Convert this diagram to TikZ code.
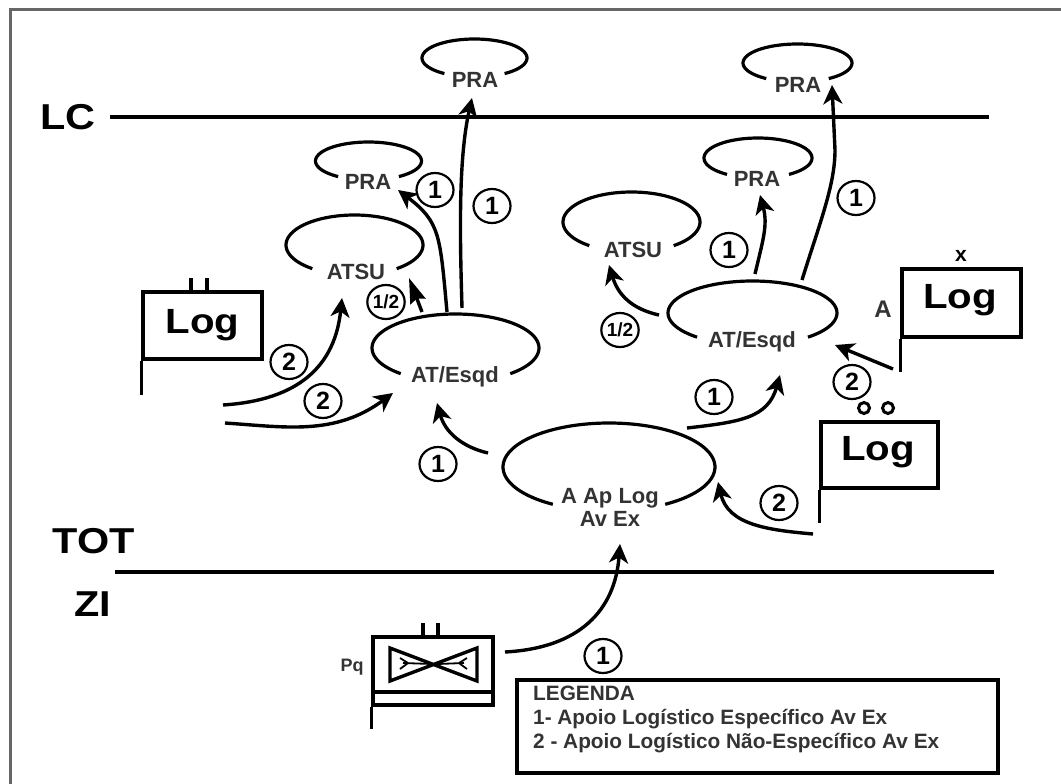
\documentclass[tikz,border=0pt]{standalone}
\usepackage{fontspec}
\setmainfont{Liberation Sans}
\newfontfamily\widefont[FakeStretch=1.15]{Liberation Sans}
\usetikzlibrary{arrows.meta,shapes.geometric}
\tikzset{
  ln/.style={line width=3.4pt,black},
  pole/.style={line width=3.6pt,black},
  conn/.style={line width=3.4pt,black,-{Stealth[length=19pt,width=19pt,inset=5.5pt]}},
  ov/.style={line width=3.2pt,black},
  lab/.style={font=\bfseries\fontsize{22}{23}\selectfont,text=black!80,inner sep=0pt,align=center},
  big/.style={font=\widefont\bfseries\fontsize{36}{38}\selectfont,inner sep=0pt},
  num/.style={ellipse,draw,line width=2.2pt,minimum width=37pt,minimum height=34pt,inner sep=0pt,font=\bfseries\fontsize{25}{25}\selectfont},
  halfnum/.style={ellipse,draw,line width=2.2pt,minimum width=37pt,minimum height=34pt,inner sep=0pt,font=\bfseries\fontsize{19}{19}\selectfont},
  flag/.style={draw,line width=3.2pt,inner sep=0pt,font=\widefont\bfseries\fontsize{35}{37}\selectfont},
}
\newcommand{\Oval}[5]{% cx cy rx ry gaphalf
  \draw[ov] plot[domain=90+#5:450-#5,samples=70,smooth] ({#1+#3*cos(\x)},{#2+#4*sin(\x)});}
\begin{document}
\begin{tikzpicture}[x=1pt,y=-1pt]
\useasboundingbox (0,0) rectangle (1061,784);
\draw[line width=3pt,black!60] (10,784) -- (10,10) -- (1061,10);
% lines
\coordinate (lcA) at (110,117); \coordinate (lcB) at (989,117);
\coordinate (ziA) at (115,572); \coordinate (ziB) at (994,572);
\draw[ln] (lcA) -- (lcB);
\draw[ln] (ziA) -- (ziB);
\node[big] (lc) at (68,117) {LC};
\node[big] (tot) at (94,541) {TOT};
\node[big] (zi) at (93,604) {ZI};
% ovals
\Oval{474.5}{58}{52.5}{19}{35}
\Oval{797.5}{63}{54.5}{19}{35}
\Oval{368.5}{161}{53}{19}{35}
\Oval{758}{158}{54}{20}{35}
\Oval{354.5}{245}{68.5}{30}{38}
\Oval{631.5}{222}{68.5}{30}{38}
\Oval{455.5}{348}{83.5}{34}{41}
\Oval{752.5}{313}{84.5}{32}{41}
\Oval{609}{467}{106}{44}{32}
% oval labels
\node[lab] (praA) at (475,80) {PRA};
\node[lab] (praB) at (798,85) {PRA};
\node[lab] (praC) at (368,182) {PRA};
\node[lab] (praD) at (757,179) {PRA};
\node[lab] (atsuA) at (356,272) {ATSU};
\node[lab] (atsuB) at (633,250) {ATSU};
\node[lab] (atA) at (455,377) {AT/Esqd};
\node[lab] (atB) at (752,342) {AT/Esqd};
\node[lab] (aap) at (610,507) {A Ap Log\\Av Ex};
% flags
\node[flag,minimum width=119pt,minimum height=67pt] (logA) at (202.5,325.5) {Log};
\coordinate (logAp) at (143,395);
\draw[pole] (logA.south west) -- (logA.south west|-logAp);
\coordinate (tkA) at (191,278); \coordinate (tkB) at (207,278);
\draw[pole] (tkA) -- (tkA|-logA.north) (tkB) -- (tkB|-logA.north);
\node[flag,minimum width=119pt,minimum height=68pt] (logB) at (961.5,303) {};
\node[font=\widefont\bfseries\fontsize{35}{37}\selectfont,inner sep=0pt] (logBt) at (960,300) {Log};
\coordinate (logBp) at (902,372);
\draw[pole] (logB.south west) -- (logB.south west|-logBp);
\node[font=\bfseries\fontsize{21}{21}\selectfont,inner sep=0pt] (xm) at (961,256) {x};
\node[font=\bfseries\fontsize{24}{24}\selectfont,inner sep=0pt,text=black!80] (am) at (883,309) {A};
\node[flag,minimum width=117pt,minimum height=66pt] (logC) at (879.5,455) {};
\node[font=\widefont\bfseries\fontsize{35}{37}\selectfont,inner sep=0pt] (logCt) at (878,452) {Log};
\coordinate (logCp) at (821,523);
\draw[pole] (logC.south west) -- (logC.south west|-logCp);
\node[circle,draw,line width=3pt,minimum size=11pt,inner sep=0pt] (oa) at (864,408) {};
\node[circle,draw,line width=3pt,minimum size=11pt,inner sep=0pt] (ob) at (888,408) {};
% Pq
\node[draw,line width=3.2pt,minimum width=120pt,minimum height=68pt,inner sep=0pt] (pq) at (433,671) {};
\coordinate (pqL) at (373,729);
\coordinate (pqM) at (373,692);
\draw[pole] (pq.south west) -- (pq.south west|-pqL);
\draw[pole] (pqM) -- (pqM-|pq.east);
\coordinate (tkC) at (423,623); \coordinate (tkD) at (438,623);
\draw[pole] (tkC) -- (tkC|-pq.north) (tkD) -- (tkD|-pq.north);
\draw[line width=3.4pt,line join=miter] (390,648) -- (390,681) -- (477,648) -- (477,681) -- cycle;
\draw[line width=1.8pt] (400,658) -- (408,663) -- (400,669) (403,663) -- (432,664)
  (467,658) -- (459,663) -- (467,669) (464,663) -- (438,664);
\node[font=\bfseries\fontsize{18}{18}\selectfont,inner sep=0pt,text=black!80] (pqt) at (352,667) {Pq};
% connectors (free ends are named)
\coordinate (a1) at (462,308); \coordinate (a2) at (472,98);
\draw[conn] (a1) .. controls (460,240) and (458,160) .. (a2);
\coordinate (b1) at (802,280); \coordinate (b2) at (832,85);
\draw[conn] (b1) .. controls (820,222) and (835,185) .. (835,150) -- (b2);
\coordinate (c1) at (447,312); \coordinate (c2) at (398,190);
\draw[conn] (c1) .. controls (440,235) and (440,222) .. (c2);
\coordinate (d1) at (755,274); \coordinate (d2) at (760,195);
\draw[conn] (d1) .. controls (763,240) and (768,225) .. (d2);
\coordinate (e1) at (422,312); \coordinate (e2) at (409,278);
\draw[line width=3.4pt,-{Stealth[length=25pt,width=16pt,inset=3pt]}] (e1) -- (e2);
\coordinate (f1) at (659,315); \coordinate (f2) at (609,265);
\draw[conn] (f1) .. controls (632,309) and (618,295) .. (f2);
\coordinate (g1) at (223,405); \coordinate (g2) at (342,298);
\draw[conn] (g1) .. controls (300,400) and (335,365) .. (g2);
\coordinate (h1) at (225,423); \coordinate (h2) at (393,393);
\draw[conn] (h1) .. controls (285,427) and (335,436) .. (h2);
\coordinate (i1) at (488,453); \coordinate (i2) at (437,403);
\draw[conn] (i1) .. controls (462,447) and (445,432) .. (i2);
\coordinate (j1) at (687,428); \coordinate (j2) at (780,375);
\draw[conn] (j1) .. controls (740,422) and (768,418) .. (j2);
\coordinate (k1) at (813,534); \coordinate (k2) at (718,482);
\draw[conn] (k1) .. controls (768,530) and (728,525) .. (k2);
\coordinate (l1) at (893,369); \coordinate (l2) at (835,345);
\draw[conn] (l1) -- (l2);
\coordinate (m1) at (505,652); \coordinate (m2) at (620,544);
\draw[conn] (m1) .. controls (580,648) and (615,610) .. (m2);
% numbered circles
\node[num] (n1) at (435,190) {1};
\node[num] (n2) at (492,206) {1};
\node[num] (n3) at (729,250) {1};
\node[num] (n4) at (856,198) {1};
\node[halfnum] (n5) at (386,302) {1/2};
\node[halfnum] (n6) at (620,330) {1/2};
\node[num] (n7) at (289,362) {2};
\node[num] (n8) at (323,401) {2};
\node[num] (n9) at (438,464) {1};
\node[num] (n10) at (714,397) {1};
\node[num] (n11) at (852,382) {2};
\node[num] (n12) at (779,503) {2};
\node[num] (n13) at (603,656) {1};
% legend
\node[draw,line width=4pt,minimum width=481pt,minimum height=93pt,inner sep=0pt] (leg) at (757.5,726.5) {};
\node[anchor=north west,inner sep=0pt,align=left,text=black!80,font=\bfseries\fontsize{20.8}{23.7}\selectfont] (legt) at (533,686)
 {LEGENDA\\1- Apoio Logístico Específico Av Ex\\2 - Apoio Logístico Não-Específico Av Ex};
\end{tikzpicture}
\end{document}
